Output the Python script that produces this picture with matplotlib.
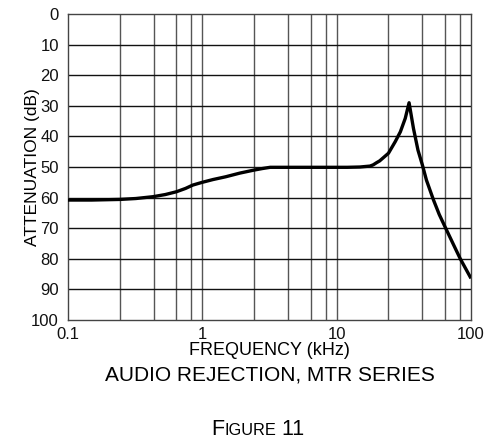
import matplotlib
matplotlib.use("Agg")
import matplotlib.pyplot as plt

plt.rcParams['font.family'] = ['Liberation Sans', 'DejaVu Sans']

# curve (kHz, dB attenuation)
freq = [0.1, 0.15, 0.243, 0.32, 0.43, 0.53, 0.64, 0.75, 0.85, 1.0, 1.2, 1.49, 1.9, 2.43, 2.8, 3.2,
        5.0, 8.0, 12.0, 14.9, 17.7, 18.7, 19.8, 20.9, 24.3, 27.3, 29.8, 32.4, 34.6,
        37.3, 40.3, 43.5, 46.6, 52.6, 58.0, 64.0, 73.4, 83.0, 100.0]
atten = [60.8, 60.8, 60.6, 60.3, 59.7, 59.0, 58.1, 57.0, 55.9, 55.0, 54.1, 53.2, 52.0, 51.0, 50.5, 50.1,
         50.1, 50.1, 50.1, 50.0, 49.7, 49.3, 48.6, 48.0, 45.5, 41.7, 38.5, 34.1, 29.0,
         37.4, 44.5, 49.4, 54.3, 60.8, 65.5, 69.5, 75.0, 79.9, 86.4]

y_ticks = [0, 10, 20, 30, 40, 50, 60, 70, 80, 90, 100]
x_ticks = [0.1, 1, 10, 100]
x_tick_labels = ["0.1", "1", "10", "100"]
grid_steps = [2.43, 4.35, 6.4, 8.3]   # vertical grid positions within each decade

fig = plt.figure(figsize=(4.98, 4.44), dpi=100)
ax = fig.add_axes([68/498, 1-320/444, (471-68)/498, (320-14)/444])

ax.set_xscale('log')
ax.set_xlim(0.1, 100)
ax.set_ylim(100, 0)

# grid
for dec in [0.1, 1, 10]:
    for s in grid_steps:
        ax.axvline(dec*s, color='#555555', lw=1.0, zorder=1)
    if dec > 0.1:
        ax.axvline(dec, color='#555555', lw=1.0, zorder=1)
for v in y_ticks[1:-1]:
    ax.axhline(v, color='#111111', lw=1.0, zorder=1)

ax.plot(freq, atten, color='black', lw=2.4, zorder=3, solid_capstyle='butt')

ax.set_yticks(y_ticks)
ax.set_yticklabels([str(v) for v in y_ticks])
ax.set_xticks(x_ticks)
ax.set_xticklabels(x_tick_labels)
ax.xaxis.set_minor_locator(matplotlib.ticker.NullLocator())
ax.tick_params(length=0, labelsize=12, colors='#111111')
ax.tick_params(axis='y', pad=6.5)
ax.tick_params(axis='x', pad=5)
for sp in ax.spines.values():
    sp.set_color('#444444')
    sp.set_linewidth(1.0)

ax.set_ylabel("ATTENUATION (dB)", fontsize=12.5, labelpad=-6)
ax.set_xlabel("FREQUENCY (kHz)", fontsize=13, labelpad=0)

fig.text(270/498, 1-375/444, "AUDIO REJECTION, MTR SERIES", fontsize=15,
         ha='center', va='center')

# small caps "FIGURE 11"
fig.canvas.draw()
r = fig.canvas.get_renderer()
parts = [("F", 15.5), ("IGURE", 11.8), (" 11", 15.5)]
texts = []
for s, fs in parts:
    texts.append(fig.text(0, 1-435/444, s, fontsize=fs, ha='left', va='baseline'))
widths = [t.get_window_extent(r).width for t in texts]
x0 = 257.5 - sum(widths)/2
for t, w in zip(texts, widths):
    t.set_x(x0/498)
    x0 += w

fig.savefig("out.png", dpi=100)
